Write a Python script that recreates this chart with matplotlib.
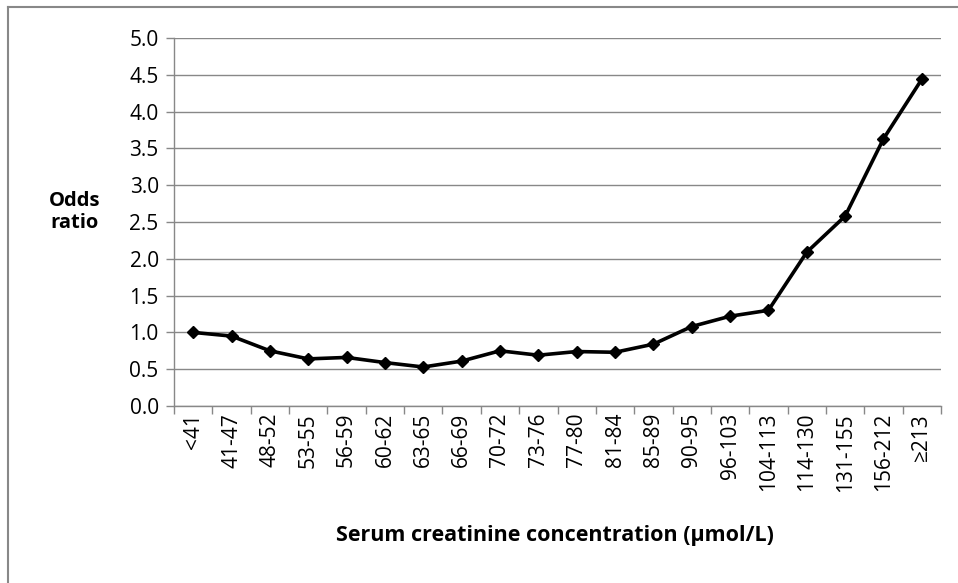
import numpy as np
import matplotlib
matplotlib.use("Agg")
import matplotlib.pyplot as plt
from matplotlib.lines import Line2D

# serum creatinine groups (umol/L) and odds ratios
categories = ["<41", "41-47", "48-52", "53-55", "56-59", "60-62", "63-65",
              "66-69", "70-72", "73-76", "77-80", "81-84", "85-89", "90-95",
              "96-103", "104-113", "114-130", "131-155", "156-212", "≥213"]
odds_ratio = [1.00, 0.95, 0.75, 0.64, 0.66, 0.59, 0.53, 0.61, 0.75, 0.69,
              0.74, 0.73, 0.84, 1.08, 1.22, 1.30, 2.09, 2.58, 3.63, 4.44]
yticks = [0.0, 0.5, 1.0, 1.5, 2.0, 2.5, 3.0, 3.5, 4.0, 4.5, 5.0]

plt.rcParams['font.family'] = ['Open Sans', 'DejaVu Sans']
grey = '#888888'

fig = plt.figure(figsize=(9.58, 5.83), dpi=100)
ax = fig.add_axes([174 / 958, 1 - 406 / 583, (941 - 174) / 958, (406 - 38) / 583])

x = np.arange(len(categories))
ax.plot(x, odds_ratio, color='black', lw=2.6, marker='D', ms=6,
        markerfacecolor='black', markeredgecolor='black')

ax.set_xlim(-0.5, len(categories) - 0.5)
ax.set_ylim(0, 5)
ax.set_yticks(yticks)
ax.set_yticklabels([f"{v:.1f}" for v in yticks], fontsize=15)
ax.yaxis.grid(True, color=grey, lw=1)
ax.set_axisbelow(True)

# excel style: tick marks between categories, labels at centres
ax.set_xticks(np.arange(len(categories) + 1) - 0.5)
ax.set_xticklabels([])
ax.set_xticks(x, minor=True)
ax.set_xticklabels(categories, minor=True, rotation=90, fontsize=15)
ax.tick_params(axis='x', which='major', length=6, color=grey, width=1)
ax.tick_params(axis='x', which='minor', length=0, pad=5)
ax.tick_params(axis='y', length=6, color=grey, width=1, pad=5)

for s in ['top', 'right']:
    ax.spines[s].set_visible(False)
for s in ['left', 'bottom']:
    ax.spines[s].set_color(grey)
    ax.spines[s].set_linewidth(1)

fig.text(75 / 958, 1 - 212 / 583, "Odds\nratio", ha='center', va='center',
         fontsize=14.5, fontweight='bold', linespacing=1.2)
fig.text(555 / 958, 1 - 535 / 583,
         "Serum creatinine concentration (µmol/L)", ha='center', va='center',
         fontsize=15.5, fontweight='bold')

# chart area border (only left and top edges are visible)
fig.add_artist(Line2D([8 / 958, 8 / 958], [0, 1 - 7 / 583], transform=fig.transFigure,
                      color=grey, lw=1.5))
fig.add_artist(Line2D([8 / 958, 1], [1 - 7 / 583, 1 - 7 / 583], transform=fig.transFigure,
                      color=grey, lw=1.5))

fig.savefig("out.png", dpi=100)
